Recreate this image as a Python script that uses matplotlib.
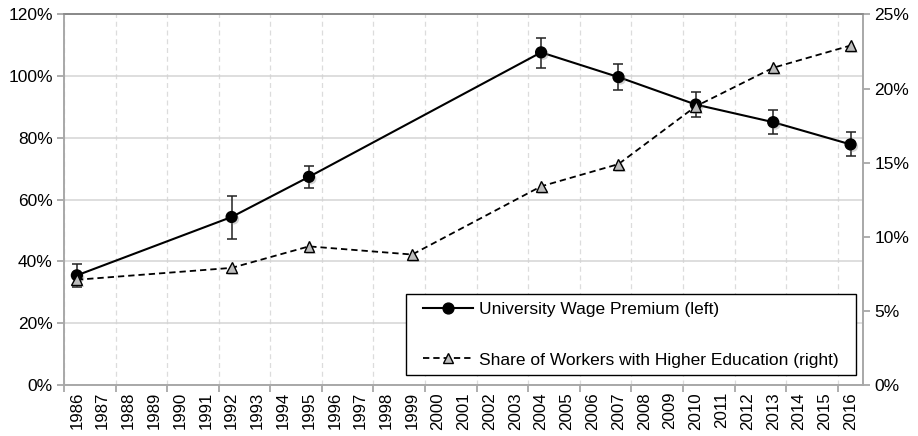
import matplotlib
matplotlib.use("Agg")
import matplotlib.pyplot as plt
import matplotlib.patheffects as pe
from matplotlib.lines import Line2D
from matplotlib.patches import Rectangle
from matplotlib.ticker import FixedLocator, FuncFormatter
import numpy as np

plt.rcParams['font.family'] = ['Liberation Sans', 'DejaVu Sans']

years = [str(y) for y in range(1986, 2017)]

wage_years = ['1986', '1992', '1995', '2004', '2007', '2010', '2013', '2016']
wage_premium = [35.5, 54.4, 67.4, 107.7, 99.7, 90.8, 85.1, 77.9]
wage_upper = [39.1, 61.1, 70.8, 112.5, 104.0, 94.8, 89.2, 81.9]
wage_lower = [31.7, 47.4, 63.9, 102.6, 95.5, 86.8, 81.2, 74.2]

share_years = ['1986', '1992', '1995', '1999', '2004', '2007', '2010', '2013', '2016']
share_higher_ed = [7.1, 7.9, 9.35, 8.8, 13.4, 14.9, 18.8, 21.4, 22.9]

label_wage = 'University Wage Premium (left)'
label_share = 'Share of Workers with Higher Education (right)'

fig = plt.figure(figsize=(9.18, 4.36), dpi=100)
ax = fig.add_axes([0.0697, 0.117, 0.8709, 0.850])
ax2 = ax.twinx()

xw = np.array([years.index(y) for y in wage_years])
xs = np.array([years.index(y) for y in share_years])
wp = np.array(wage_premium)
yerr = np.vstack([wp - np.array(wage_lower), np.array(wage_upper) - wp])

shadow = [pe.SimplePatchShadow(offset=(1.5, -1.5), shadow_rgbFace='gray', alpha=0.35), pe.Normal()]

ax.errorbar(xw, wp, yerr=yerr, fmt='none', ecolor='#222222', elinewidth=1.1,
            capsize=3.5, capthick=1.1, zorder=3)
ax.plot(xw, wp, color='black', lw=1.5, zorder=4)
ax.plot(xw, wp, ls='none', marker='o', ms=7.8, mfc='black', mec='black',
        zorder=5, path_effects=shadow)

ax2.plot(xs, share_higher_ed, color='black', lw=1.3, ls=(0, (3.5, 2.2)), zorder=4)
ax2.plot(xs, share_higher_ed, ls='none', marker='^', ms=7.8, mfc='#bdbdbd', mec='black',
         mew=1.0, zorder=5, path_effects=shadow)

n = len(years)
ax.set_xlim(-0.5, n - 0.5)
ax.set_ylim(0, 120)
ax2.set_ylim(0, 25)

ax.xaxis.set_major_locator(FixedLocator(np.arange(-0.5, n, 2)))
ax.set_xticklabels([], minor=False)
ax.set_xticks(np.arange(n), minor=True)
ax.set_xticklabels(years, minor=True, rotation=90, fontsize=12.2)
ax.tick_params(axis='x', which='major', length=5, color='#a0a0a0', width=1.2)
ax.tick_params(axis='x', which='minor', length=0, pad=5)

ax.set_yticks(np.arange(0, 121, 20))
ax.yaxis.set_major_formatter(FuncFormatter(lambda v, p: f'{int(v)}%'))
ax.tick_params(axis='y', length=5, color='#a0a0a0', width=1.2, labelsize=12.5, pad=3)
ax2.set_yticks(np.arange(0, 26, 5))
ax2.yaxis.set_major_formatter(FuncFormatter(lambda v, p: f'{int(v)}%'))
ax2.tick_params(axis='y', length=5, color='#a0a0a0', width=1.2, labelsize=12.5, pad=3)

ax.grid(axis='y', color='#d4d4d4', lw=1.1, ls='-')
ax.grid(axis='x', which='major', color='#dcdcdc', lw=0.9, ls=(0, (4, 3)))
ax.set_axisbelow(True)

for a in (ax, ax2):
    for s in a.spines.values():
        s.set_color('#a8a8a8')
        s.set_linewidth(1.2)
    a.spines['top'].set_color('#888888')

# legend box
ax2.add_patch(Rectangle((0.4278, 0.026), 0.5629, 0.2193, transform=ax2.transAxes,
                        facecolor='white', edgecolor='black', lw=1.0, zorder=9))

h1 = Line2D([], [], color='black', lw=1.5, marker='o', ms=7.8, mfc='black', mec='black')
h2 = Line2D([], [], color='black', lw=1.3, ls=(0, (3.5, 2.2)), marker='^', ms=7.8,
            mfc='#bdbdbd', mec='black', mew=1.0)
leg = ax2.legend([h1, h2], [label_wage, label_share], loc='center',
                 bbox_to_anchor=(0.709, 0.136), fontsize=12.5, frameon=False,
                 handlelength=2.9, handletextpad=0.35,
                 labelspacing=2.05, borderpad=0.0, borderaxespad=0)
leg.set_zorder(10)

fig.savefig('out.png', dpi=100)
